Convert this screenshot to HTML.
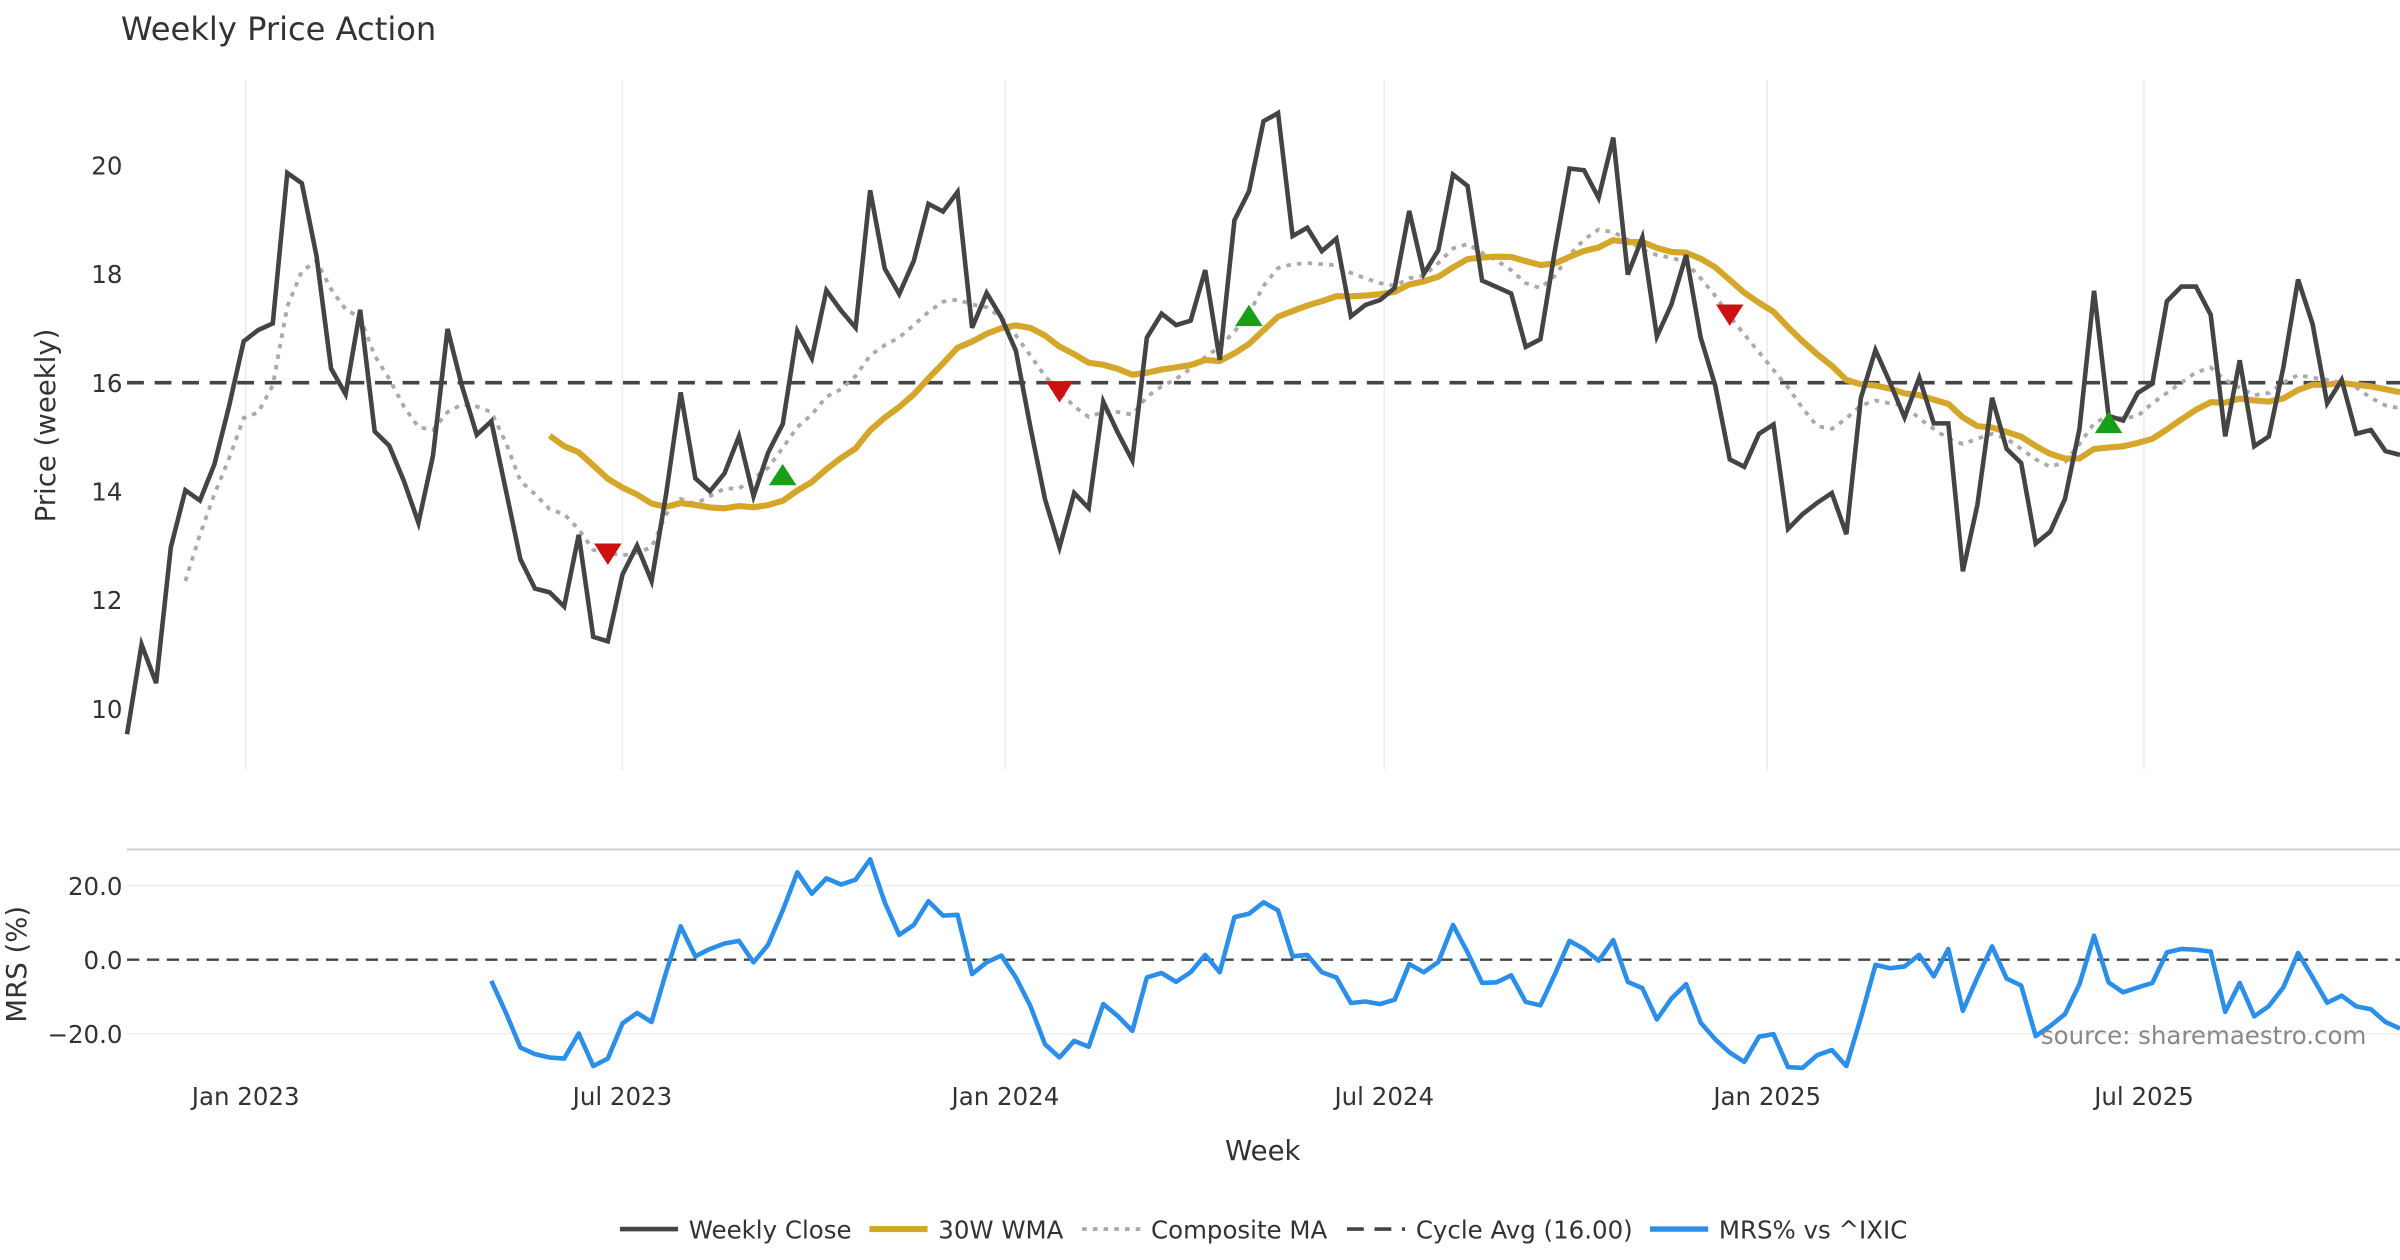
<!DOCTYPE html>
<html><head><meta charset="utf-8"><title>Weekly Price Action</title>
<style>
html,body{margin:0;padding:0;background:#fff;}
svg{display:block;font-family:"DejaVu Sans","Liberation Sans",sans-serif;}
</style></head>
<body>
<svg id="chart" width="2400" height="1260" viewBox="0 0 1568 823.2" xmlns="http://www.w3.org/2000/svg">
<text x="79" y="26" font-size="21" fill="#333">Weekly Price Action</text>
<text transform="translate(36,278) rotate(-90)" text-anchor="middle" font-size="18" fill="#333">Price (weekly)</text>
<text transform="translate(17,630) rotate(-90)" text-anchor="middle" font-size="18" fill="#333">MRS (%)</text>
<text x="825" y="758" text-anchor="middle" font-size="18" fill="#333">Week</text>
<g id="grid"></g>
<g id="series"></g>
<text x="1546" y="682" text-anchor="end" font-size="16" fill="#888">source: sharemaestro.com</text>
<g id="legend"></g>
</svg>
<script>
const startDate = new Date(Date.UTC(2022,10,5));
const closes = [9.53,11.18,10.47,12.97,14.02,13.83,14.50,15.56,16.76,16.97,
17.09,19.86,19.67,18.33,16.26,15.79,17.34,15.10,14.84,14.19,
13.42,14.66,16.99,15.93,15.04,15.29,14.02,12.75,12.21,12.14,
11.88,13.20,11.32,11.24,12.47,13.00,12.35,13.95,15.82,14.24,
14.00,14.33,15.01,13.91,14.71,15.24,16.95,16.45,17.70,17.33,
17.01,19.54,18.10,17.63,18.24,19.29,19.15,19.51,17.01,17.65,
17.20,16.59,15.18,13.86,12.97,13.97,13.69,15.65,15.08,14.57,
16.83,17.27,17.06,17.14,18.07,16.42,18.99,19.52,20.81,20.96,
18.70,18.85,18.42,18.65,17.22,17.43,17.52,17.74,19.16,18.00,
18.44,19.83,19.62,17.88,17.76,17.64,16.66,16.80,18.44,19.94,
19.91,19.40,20.51,17.99,18.67,16.85,17.44,18.35,16.83,15.95,
14.59,14.45,15.06,15.23,13.31,13.58,13.79,13.97,13.21,15.72,
16.60,16.00,15.36,16.09,15.25,15.25,12.53,13.75,15.72,14.78,
14.52,13.04,13.26,13.86,15.15,17.69,15.39,15.30,15.81,15.98,
17.50,17.77,17.77,17.25,15.01,16.41,14.83,15.01,16.28,17.90,
17.08,15.62,16.05,15.06,15.13,14.74,14.67];
const compositeStart = 4;
const composite = [12.35,13.2,13.95,14.6,15.35,15.45,15.95,17.4,18.05,18.24,
17.72,17.35,17.2,16.5,16.07,15.56,15.18,15.13,15.46,15.6,
15.56,15.46,14.9,14.19,13.95,13.67,13.58,13.3,12.92,12.87,
12.82,12.87,12.97,13.58,13.86,13.77,13.91,14.05,14.05,14.24,
14.43,14.8,15.18,15.41,15.74,15.88,16.12,16.5,16.69,16.83,
17.06,17.3,17.49,17.53,17.44,17.39,17.2,16.87,16.5,16.12,
15.84,15.56,15.37,15.46,15.46,15.41,15.74,15.93,16.07,16.26,
16.47,16.66,16.94,17.27,17.78,18.11,18.18,18.2,18.18,18.16,
18.02,17.92,17.83,17.78,17.92,17.97,18.2,18.47,18.55,18.39,
18.25,18.07,17.83,17.74,17.97,18.35,18.63,18.82,18.77,18.63,
18.44,18.35,18.3,18.21,17.92,17.6,17.22,16.89,16.56,16.23,
15.91,15.53,15.2,15.15,15.34,15.58,15.67,15.62,15.58,15.34,
15.15,14.97,14.87,14.97,15.06,14.97,14.78,14.59,14.45,14.54,
14.87,15.25,15.39,15.34,15.39,15.62,15.81,16.0,16.19,16.28,
16.05,15.91,15.77,15.81,16.0,16.14,16.09,16.05,16.0,15.91,
15.72,15.58,15.53];
const mrsStart = 25;
const mrs = [-5.7,-14.3,-23.7,-25.5,-26.4,-26.7,-19.9,-28.7,-26.7,-17.2,
-14.4,-16.8,-3.4,9.0,0.9,2.9,4.4,5.1,-0.7,4.0,
13.3,23.6,17.8,22.0,20.3,21.6,27.1,15.5,6.7,9.4,
15.8,11.9,12.1,-3.9,-0.7,1.1,-4.8,-12.5,-22.8,-26.4,
-21.9,-23.5,-12.0,-15.2,-19.2,-4.8,-3.6,-6.0,-3.4,1.3,
-3.4,11.5,12.4,15.5,13.3,0.9,1.3,-3.4,-4.8,-11.7,
-11.3,-12.0,-10.8,-1.2,-3.4,-0.6,9.4,2.0,-6.3,-6.1,
-4.2,-11.4,-12.3,-3.9,5.1,2.9,-0.3,5.3,-6.0,-7.7,
-16.1,-10.5,-6.6,-17.0,-21.5,-25.1,-27.6,-20.8,-20.1,-29.0,
-29.2,-25.8,-24.4,-28.7,-15.6,-1.4,-2.3,-1.8,1.3,-4.5,
2.9,-13.8,-4.8,3.6,-5.1,-7.0,-20.6,-17.9,-14.7,-6.6,
6.5,-6.1,-8.8,-7.5,-6.3,2.0,2.9,2.7,2.2,-14.1,
-6.3,-15.3,-12.5,-7.5,1.8,-4.8,-11.6,-9.7,-12.6,-13.4,
-16.8,-18.6];
const wmaPeriod = 30;
const cycleAvg = 16.00;
const buyIdx = [45,77,136];
const buyPrice = [14.28,17.21,15.24];
const sellIdx = [33,64,110];
const sellPrice = [12.87,15.86,17.27];
const priceTicks = [10,12,14,16,18,20];
const mrsTicks = [20,0,-20];
const mrsTickLabels = ["20.0","0.0","\u221220.0"];
const dateTicks = ["2023-01-01","2023-07-01","2024-01-01","2024-07-01","2025-01-01","2025-07-01"];
const dateTickLabels = ["Jan 2023","Jul 2023","Jan 2024","Jul 2024","Jan 2025","Jul 2025"];

const NS = "http://www.w3.org/2000/svg";
const X0 = 83, DX = (1568-83)/156;
function xi(i){ return X0 + i*DX; }
function xDate(s){ const d=new Date(s+"T00:00:00Z"); return X0 + (d-startDate)/86400000/7*DX; }
function yP(v){ return 250 - (v-16)*35.5; }
function yM(v){ return 627 - v*2.42; }
function mk(tag, attrs, parent){ const e=document.createElementNS(NS,tag); for(const k in attrs) e.setAttribute(k,attrs[k]); parent.appendChild(e); return e; }
const grid=document.getElementById('grid'), ser=document.getElementById('series'), leg=document.getElementById('legend');

const wma=[];
for(let i=wmaPeriod-1;i<closes.length;i++){ let s=0,w=0; for(let k=0;k<wmaPeriod;k++){ s+=closes[i-k]*(wmaPeriod-k); w+=wmaPeriod-k; } wma.push([i,s/w]); }

dateTicks.forEach((d,j)=>{
  const x=xDate(d);
  const g=mk('line',{x1:x,x2:x,y1:52,y2:503,stroke:'#ececec','stroke-width':1},grid);
  
  
  const t=mk('text',{x:x,y:722,'text-anchor':'middle','font-size':16,fill:'#333'},grid);
  t.textContent=dateTickLabels[j];
  
  
});
priceTicks.forEach(v=>{
  const t=mk('text',{x:80,y:yP(v)+6,'text-anchor':'end','font-size':16,fill:'#333'},grid);
  t.textContent=String(v);
  
  
});
const sep=mk('line',{x1:83,x2:1568,y1:555,y2:555,stroke:'#cccccc','stroke-width':1.3},grid);


mrsTicks.forEach((v,j)=>{
  if(v!==0){ const l=mk('line',{x1:83,x2:1568,y1:yM(v),y2:yM(v),stroke:'#f0f0f4','stroke-width':1.3},grid);
    
     }
  const t=mk('text',{x:80,y:yM(v)+6,'text-anchor':'end','font-size':16,fill:'#333'},grid);
  t.textContent=mrsTickLabels[j];
  
  
});
const zl=mk('line',{x1:83,x2:1568,y1:yM(0),y2:yM(0),stroke:'#444','stroke-width':1.5,'stroke-dasharray':'8,5'},grid);



function path(pts){ return pts.map((p,k)=>(k?'L':'M')+p[0].toFixed(1)+' '+p[1].toFixed(1)).join(''); }
const ca=mk('line',{x1:83,x2:1568,y1:yP(cycleAvg),y2:yP(cycleAvg),stroke:'#444','stroke-width':2.4,'stroke-dasharray':'11,7'},ser);


const cp=mk('path',{d:path(composite.map((v,k)=>[xi(k+compositeStart),yP(v)])),fill:'none',stroke:'#aaaaaa','stroke-width':2.5,'stroke-dasharray':'3,4'},ser);


const wp=mk('path',{d:path(wma.map(p=>[xi(p[0]),yP(p[1])])),fill:'none',stroke:'#d4a62a','stroke-width':4,'stroke-linejoin':'round'},ser);


const cl=mk('path',{d:path(closes.map((v,k)=>[xi(k),yP(v)])),fill:'none',stroke:'#444444','stroke-width':3,'stroke-linejoin':'miter'},ser);


buyIdx.forEach((i,k)=>{ const x=xi(i), y=yP(buyPrice[k]);
  const m=mk('polygon',{points:`${x-9},${y+6} ${x+9},${y+6} ${x},${y-8}`,fill:'#17a017'},ser);
  
   });
sellIdx.forEach((i,k)=>{ const x=xi(i), y=yP(sellPrice[k]);
  const m=mk('polygon',{points:`${x-9},${y-6} ${x+9},${y-6} ${x},${y+8}`,fill:'#cc1111'},ser);
  
   });
const mp=mk('path',{d:path(mrs.map((v,k)=>[xi(k+mrsStart),yM(v)])),fill:'none',stroke:'#2b8ee8','stroke-width':3,'stroke-linejoin':'round'},ser);



const legItems=[
 {x:405,label:'Weekly Close',stroke:'#444444',w:3,dash:''},
 {x:568,label:'30W WMA',stroke:'#d4a62a',w:4,dash:''},
 {x:707,label:'Composite MA',stroke:'#aaaaaa',w:2.5,dash:'3,4'},
 {x:880,label:'Cycle Avg (16.00)',stroke:'#444',w:2.4,dash:'11,7'},
 {x:1078,label:'MRS% vs ^IXIC',stroke:'#2b8ee8',w:3.5,dash:''}];
legItems.forEach(it=>{
  const g=mk('g',{},leg);
  
  
  const a={x1:it.x,x2:it.x+38,y1:803,y2:803,stroke:it.stroke,'stroke-width':it.w};
  if(it.dash) a['stroke-dasharray']=it.dash;
  mk('line',a,g);
  const t=mk('text',{x:it.x+45,y:809,'font-size':16,fill:'#333'},g);
  t.textContent=it.label;
});
</script>
</body></html>
